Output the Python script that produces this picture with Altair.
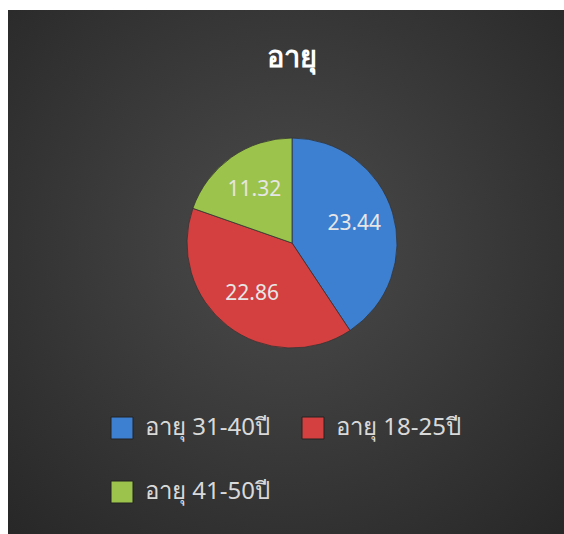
import altair as alt
import pandas as pd

categories = ["อายุ 31-40ปี", "อายุ 18-25ปี", "อายุ 41-50ปี"]
values = [23.44, 22.86, 11.32]
labels = ["23.44", "22.86", "11.32"]
order = [0, 1, 2]
colors = ["#3d7fd1", "#d4403f", "#9cc34b"]
title_text = "อายุ"

# legend is laid out column by column, so list it as col1 (31-40, 41-50), col2 (18-25)
legend_domain = [categories[0], categories[2], categories[1]]
legend_range = [colors[0], colors[2], colors[1]]

df = pd.DataFrame({"cat": categories, "val": values, "lab": labels, "ord": order})

W, H = 564, 534
FONT = "Noto Sans"

bg = alt.Chart(pd.DataFrame({"a": [0]})).mark_rect(
    color=alt.RadialGradient(
        gradient="radial",
        stops=[alt.GradientStop(color="#4b4b4b", offset=0),
               alt.GradientStop(color="#262626", offset=1)],
        x1=0.5, y1=0.45, r1=0, x2=0.5, y2=0.45, r2=0.75,
    )
).encode(x=alt.value(8), x2=alt.value(W), y=alt.value(10), y2=alt.value(H))

base = alt.Chart(df).encode(
    theta=alt.Theta("val:Q", stack=True),
    order=alt.Order("ord:Q"),
)

pie = base.mark_arc(radius=105, stroke="#333333", strokeWidth=0.8).encode(
    color=alt.Color(
        "cat:N",
        scale=alt.Scale(domain=legend_domain, range=legend_range),
        sort=legend_domain,
        legend=alt.Legend(
            title=None, orient="none", legendX=110, legendY=416,
            columns=2, columnPadding=30, rowPadding=38,
            symbolType="square", symbolSize=484, symbolStrokeWidth=1,
            symbolStrokeColor="#222222",
            labelFontSize=24, labelColor="#d9d9d9", labelFont=FONT,
            labelOffset=11, labelLimit=300, padding=0,
        ),
    ),
    x=alt.value(292), y=alt.value(243),
)

text = base.mark_text(radius=65, fontSize=21, font=FONT, color="#e6e6e6").encode(
    text="lab:N", x=alt.value(292), y=alt.value(243),
)

title = alt.Chart(pd.DataFrame({"t": [title_text]})).mark_text(
    fontSize=29, fontWeight=600, color="#ffffff", font=FONT
).encode(text="t:N", x=alt.value(292), y=alt.value(58))

chart = alt.layer(bg, pie, text, title).properties(
    width=W, height=H, padding=0, autosize=alt.AutoSizeParams(type="none"),
    background="#ffffff",
).configure_view(stroke=None)

chart.save("out.html", embed_options={"renderer": "svg", "actions": False})
